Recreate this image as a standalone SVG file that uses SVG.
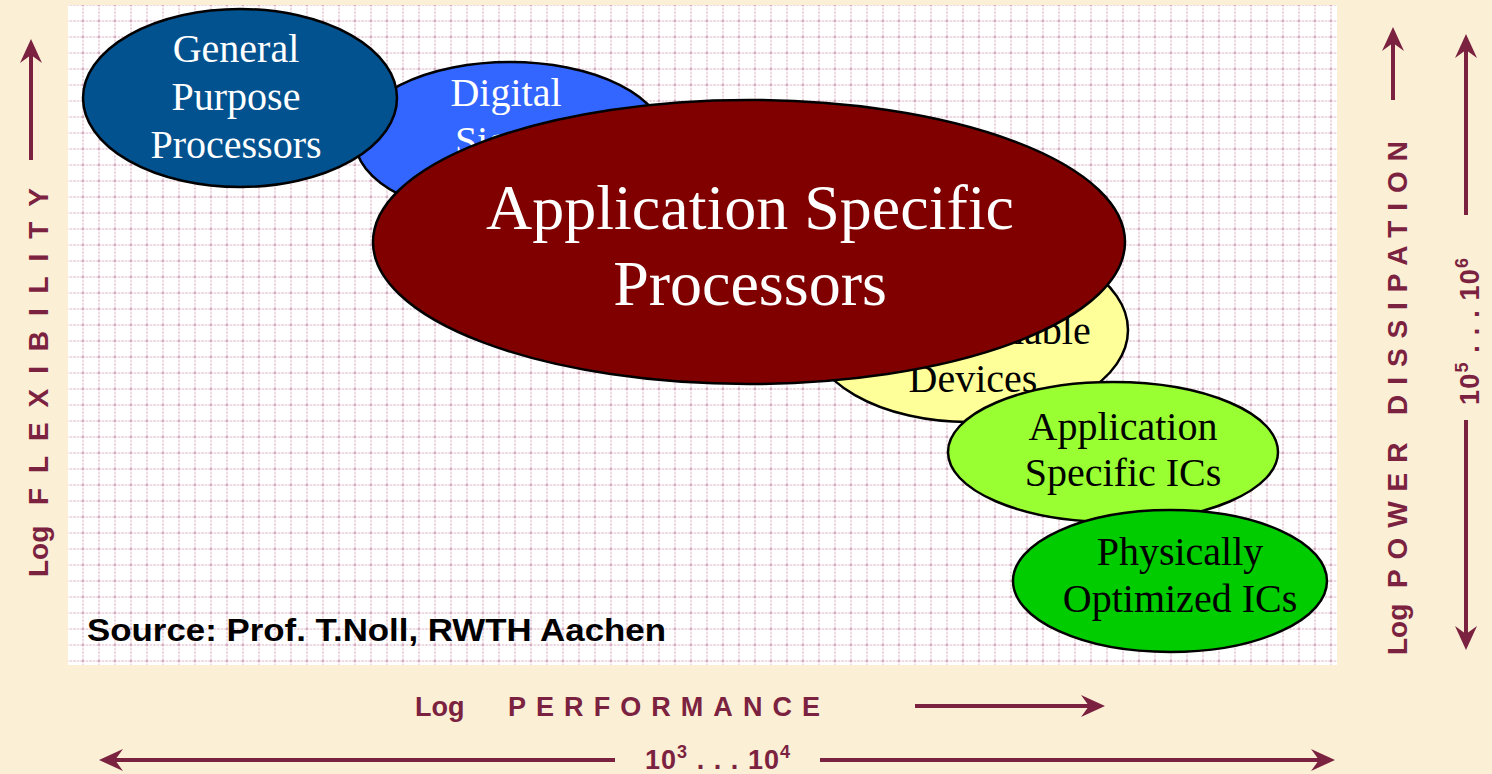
<svg xmlns="http://www.w3.org/2000/svg" width="1492" height="774" viewBox="0 0 1492 774">
<style>
.node{stroke:#000;stroke-width:2.5}
.serif{font-family:"Liberation Serif","Times New Roman",serif;font-size:40px;text-anchor:middle}
.w{fill:#fff}
.k{fill:#000}
.ax{font-family:"Liberation Sans",Arial,sans-serif;font-weight:bold;fill:#7b2240}
.axl{stroke:#7b2240;stroke-width:4;fill:none}
</style>
<defs>
<pattern id="grid" x="82.5" y="20.5" width="16" height="16" patternUnits="userSpaceOnUse">
<line x1="0" y1="0" x2="16" y2="0" stroke="#962d5c" stroke-width="1" stroke-dasharray="2 1.5"/>
<line x1="0" y1="0" x2="0" y2="16" stroke="#962d5c" stroke-width="1" stroke-dasharray="2 1.5"/>
</pattern>
<marker id="ah" viewBox="-26 -13 28 26" refX="-8" refY="0" markerWidth="28" markerHeight="26" markerUnits="userSpaceOnUse" orient="auto-start-reverse">
<path d="M0,0 L-24,-11 L-16,0 L-24,11 Z" fill="#7b2240"/>
</marker>
</defs>
<rect width="1492" height="774" fill="#fbefd5"/>
<rect x="68" y="5" width="1269" height="660" fill="#fff"/>
<rect x="68" y="5" width="1269" height="660" fill="url(#grid)" opacity="0.9"/>

<g id="dsp">
<ellipse class="node" cx="510" cy="140" rx="155" ry="78" fill="#3366ff"/>
<text class="serif w" x="506" y="106">Digital</text>
<text class="serif w" x="506" y="154">Signal</text>
<text class="serif w" x="506" y="202">Processors</text>
</g>
<g id="gpp">
<ellipse class="node" cx="240" cy="98" rx="157" ry="89" fill="#02528f"/>
<text class="serif w" x="236" y="62">General</text>
<text class="serif w" x="236" y="110">Purpose</text>
<text class="serif w" x="236" y="158">Processors</text>
</g>
<g id="pd">
<ellipse class="node" cx="968" cy="330" rx="160" ry="92" fill="#ffff99"/>
<text class="serif k" x="973" y="344">Programmable</text>
<text class="serif k" x="973" y="392">Devices</text>
</g>
<g id="asp">
<ellipse class="node" cx="749" cy="242" rx="376" ry="142" fill="#800000"/>
<text class="serif w" x="750" y="229" style="font-size:64px">Application Specific</text>
<text class="serif w" x="750" y="305" style="font-size:64px">Processors</text>
</g>
<g id="asic">
<ellipse class="node" cx="1113" cy="452" rx="165" ry="70" fill="#99ff33"/>
<text class="serif k" x="1123" y="440">Application</text>
<text class="serif k" x="1123" y="486">Specific ICs</text>
</g>
<g id="poic">
<ellipse class="node" cx="1170" cy="581" rx="157" ry="71" fill="#00cc00"/>
<text class="serif k" x="1180" y="565">Physically</text>
<text class="serif k" x="1180" y="612">Optimized ICs</text>
</g>

<text x="87" y="641" font-family="Liberation Sans,Arial,sans-serif" font-weight="bold" font-size="32" fill="#000" textLength="579" lengthAdjust="spacingAndGlyphs">Source: Prof. T.Noll, RWTH Aachen</text>

<g id="connectors">
<line class="axl" x1="31" y1="160" x2="31" y2="47" marker-end="url(#ah)"/>
<line class="axl" x1="1393" y1="100" x2="1393" y2="35" marker-end="url(#ah)"/>
<line class="axl" x1="1466" y1="215" x2="1466" y2="42" marker-end="url(#ah)"/>
<line class="axl" x1="1466" y1="420" x2="1466" y2="642" marker-end="url(#ah)"/>
<line class="axl" x1="915" y1="706" x2="1097" y2="706" marker-end="url(#ah)"/>
<line class="axl" x1="615" y1="760" x2="107" y2="760" marker-end="url(#ah)"/>
<line class="axl" x1="820" y1="760" x2="1327" y2="760" marker-end="url(#ah)"/>
</g>

<g id="axis-labels">
<text class="ax" font-size="28" transform="translate(48,577) rotate(-90)">Log</text>
<text class="ax" font-size="28" transform="translate(48,505) rotate(-90)" textLength="317" lengthAdjust="spacing">FLEXIBILITY</text>
<text class="ax" font-size="28" transform="translate(1407,655) rotate(-90)">Log</text>
<text class="ax" font-size="28" transform="translate(1407,588) rotate(-90)" textLength="447" lengthAdjust="spacing">POWER DISSIPATION</text>
<text class="ax" font-size="27" x="415" y="716">Log</text>
<text class="ax" font-size="27" x="508" y="716" textLength="312" lengthAdjust="spacing">PERFORMANCE</text>
<text class="ax" font-size="27" x="645" y="769" textLength="145">10<tspan font-size="18" dy="-11">3</tspan><tspan dy="11"> . . . 10</tspan><tspan font-size="18" dy="-11">4</tspan></text>
<text class="ax" font-size="27" transform="translate(1479,405) rotate(-90)" textLength="147">10<tspan font-size="18" dy="-11">5</tspan><tspan dy="11"> . . . 10</tspan><tspan font-size="18" dy="-11">6</tspan></text>
</g>
</svg>
